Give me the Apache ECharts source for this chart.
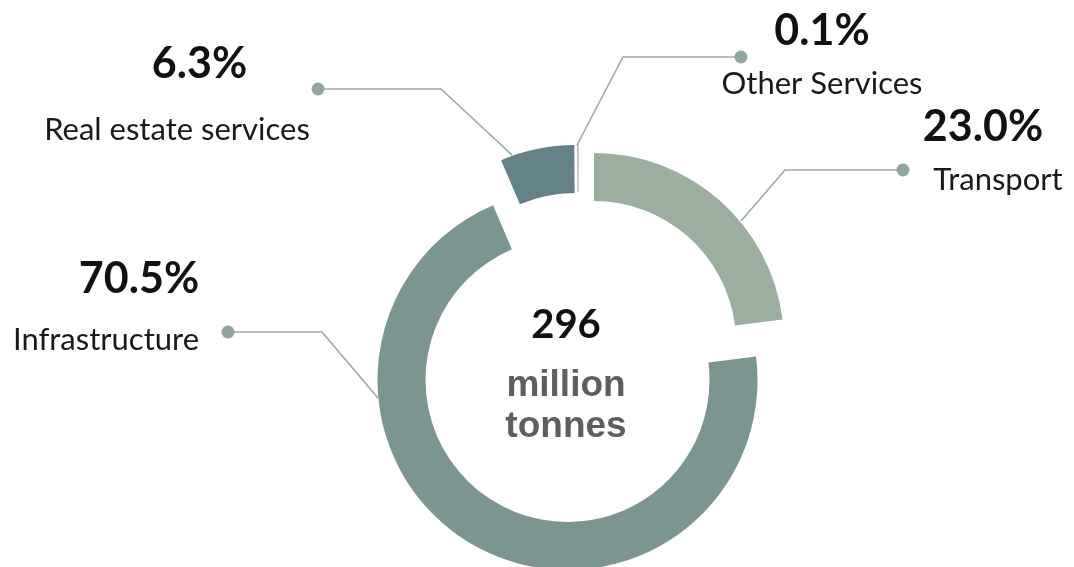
<!DOCTYPE html>
<html>
<head>
<meta charset="utf-8">
<script src="https://cdn.jsdelivr.net/npm/echarts@6/dist/echarts.min.js"></script>
<style>
html,body{margin:0;padding:0;background:#ffffff;}
#chart{width:1074px;height:567px;}
</style>
</head>
<body>
<div id="chart"></div>
<script>
// ---- data ----
const categories = ['Transport', 'Infrastructure', 'Real estate services', 'Other Services'];
const shares = [23.0, 70.5, 6.3, 0.1];
const totalLabel = ['296', 'million', 'tonnes'];

// ---- layout & style ----
const sliceColors = ['#9bae9f', '#7b9690', '#65818a', '#8d9e9c'];
const sliceCenters = [[594, 343], [567.5, 380], [575.5, 335], [578.5, 334]];
const labelSpots = [
  { pct: [983, 126.8], name: [998, 180], line: [[741, 221], [785, 170], [903, 170]] },
  { pct: [139, 278.8], name: [106, 340], line: [[378, 398], [322, 332], [228, 332]] },
  { pct: [199.5, 63.8], name: [177, 130], line: [[512, 155], [441, 89], [318, 89]] },
  { pct: [822, 30.8], name: [822, 84], line: [[577, 145], [623, 57], [741, 57]] }
];
const leaderColor = '#9aaba3';
const dotColor = '#93a69c';
const NAME_LH = 40;

const chart = echarts.init(document.getElementById('chart'), null, { renderer: 'canvas' });

const series = categories.map(function (cat, i) {
  const spot = labelSpots[i];
  const L1 = 2 * (spot.name[1] - spot.pct[1]) - NAME_LH;
  const top = spot.pct[1] - L1 / 2;
  const dx = spot.pct[0] - spot.name[0];
  const pad = [0, dx < 0 ? -2 * dx : 0, 0, dx > 0 ? 2 * dx : 0];
  return {
    type: 'pie',
    name: cat,
    center: sliceCenters[i],
    radius: [142, 190],
    startAngle: 90,
    clockwise: true,
    avoidLabelOverlap: false,
    silent: true,
    animation: false,
    emphasis: { disabled: true },
    itemStyle: { borderWidth: 0 },
    label: {
      show: true,
      position: 'outside',
      formatter: function () {
        return '{p|' + shares[i].toFixed(1) + '%}\n{n|' + categories[i] + '}';
      },
      rich: {
        p: { fontFamily: 'Lato', fontWeight: 'bold', fontSize: 43, color: '#111111',
             lineHeight: L1, align: 'center', padding: pad },
        n: { fontFamily: 'Lato', fontSize: 31, color: '#1a1a1a',
             lineHeight: NAME_LH, align: 'center' }
      }
    },
    labelLine: {
      show: true,
      length: 10,
      length2: 10,
      smooth: false,
      lineStyle: { color: leaderColor, width: 1.6 }
    },
    labelLayout: function (params) {
      if (params.dataIndex !== i) return {};
      return {
        x: spot.name[0],
        y: top,
        align: 'center',
        verticalAlign: 'top',
        labelLinePoints: spot.line
      };
    },
    data: categories.map(function (c, j) {
      const item = { name: c, value: shares[j] };
      if (j === i) {
        item.itemStyle = { color: sliceColors[i], borderWidth: 0 };
      } else {
        item.itemStyle = { color: 'rgba(0,0,0,0)', borderWidth: 0 };
        item.label = { show: false };
        item.labelLine = { show: false };
      }
      return item;
    })
  };
});

const option = {
  backgroundColor: '#ffffff',
  animation: false,
  title: {
    text: '{a|' + totalLabel[0] + '}\n{b|' + totalLabel[1] + '}\n{b|' + totalLabel[2] + '}',
    left: 566,
    top: 284.4,
    padding: 0,
    textAlign: 'center',
    textStyle: {
      rich: {
        a: { fontFamily: 'Lato', fontWeight: 'bold', fontSize: 40, color: '#111111',
             lineHeight: 80.6, align: 'center' },
        b: { fontFamily: 'Liberation Sans', fontWeight: 'bold', fontSize: 37, color: '#5e5e5e',
             lineHeight: 41, align: 'center' }
      }
    }
  },
  graphic: labelSpots.map(function (s) {
    return {
      type: 'circle',
      silent: true,
      z: 100,
      shape: { cx: s.line[2][0], cy: s.line[2][1], r: 6.5 },
      style: { fill: dotColor }
    };
  }),
  series: series
};

chart.setOption(option);
</script>
</body>
</html>
